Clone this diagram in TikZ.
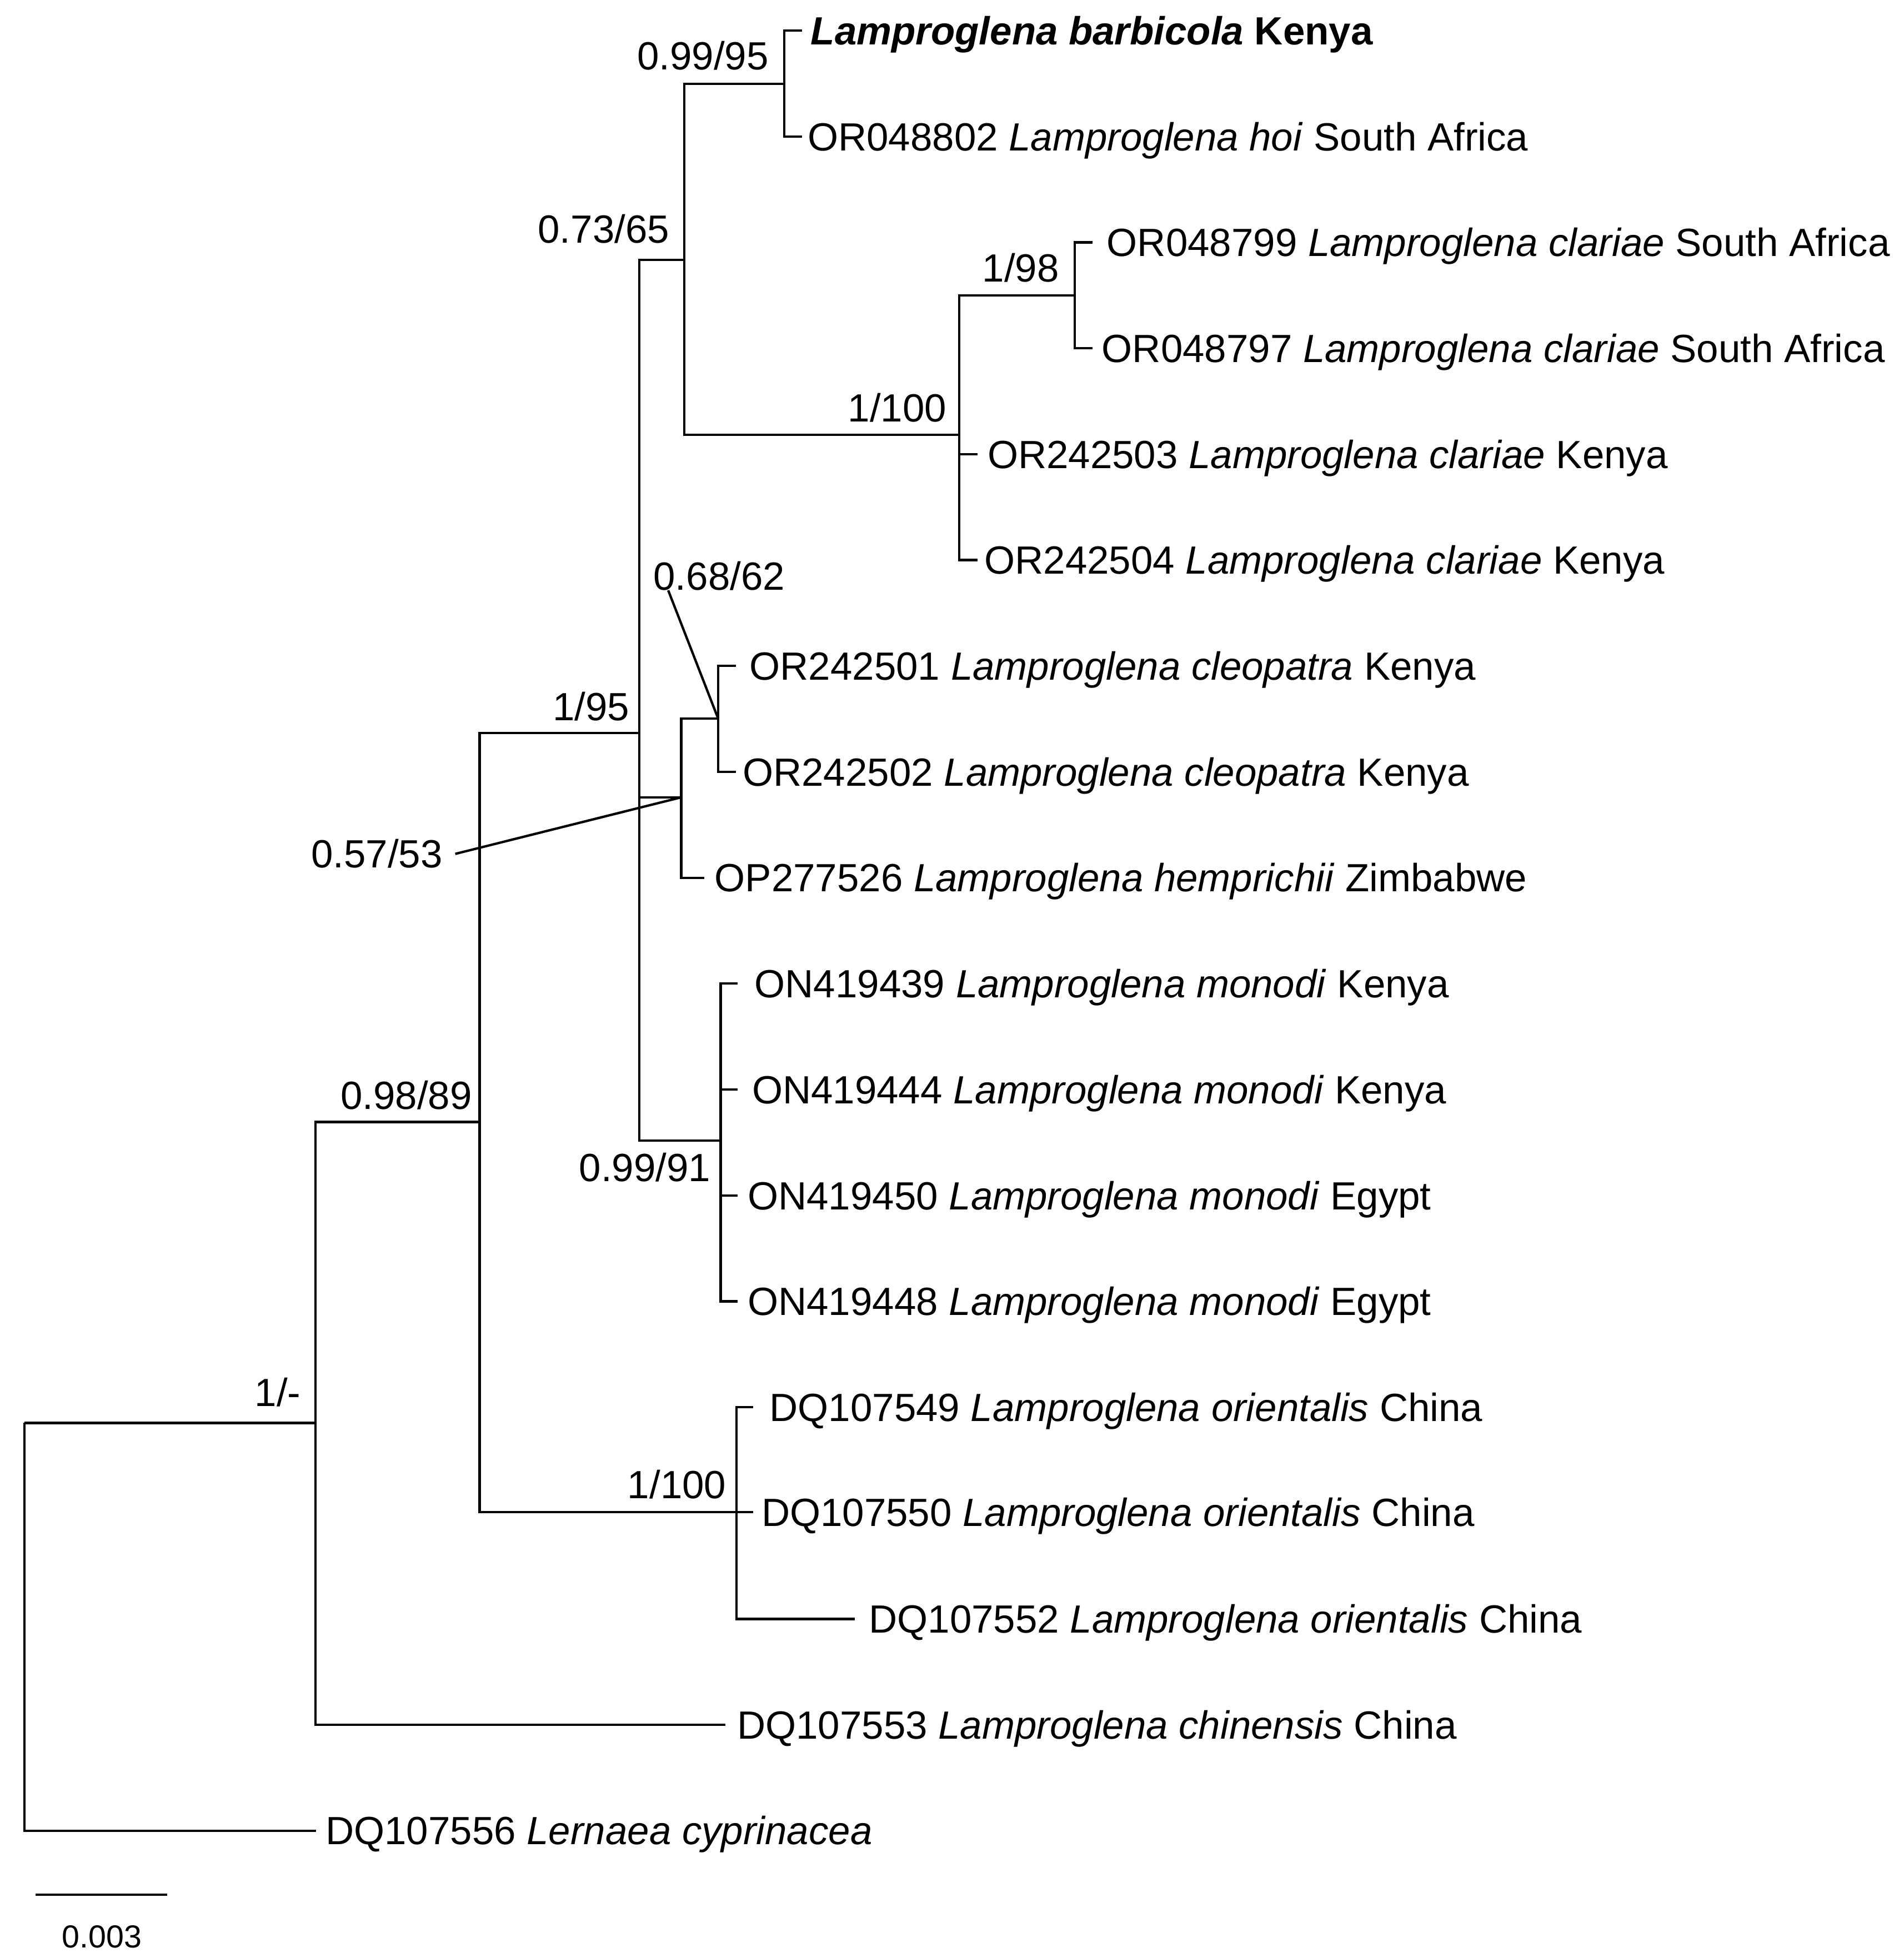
\documentclass[tikz,border=0pt]{standalone}
\usepackage{fontspec}
\setmainfont{Liberation Sans}
\begin{document}
\begin{tikzpicture}[x=1pt,y=-1pt]
\tikzset{
  branch/.style={line width=1.9pt, line join=miter, line cap=butt},
  taxon/.style={anchor=west, inner sep=0pt, font=\fontsize{31.5}{36}\selectfont, text height=22.5pt, text depth=0pt},
  support/.style={anchor=east, inner sep=0pt, font=\fontsize{31.5}{36}\selectfont, text height=22.5pt, text depth=0pt},
  scalelabel/.style={inner sep=0pt, font=\fontsize{25.5}{30}\selectfont, text height=18.3pt, text depth=0pt},
}
\useasboundingbox (0,0) rectangle (1524,1568);

% internal nodes
\coordinate (root) at (19.5,1139.5);
\coordinate (n252) at (252.5,1139.5);
\coordinate (n385) at (384,898.5);
\coordinate (n512) at (512,587);
\coordinate (n548) at (548,208);
\coordinate (n628) at (628,67);
\coordinate (n768) at (768,348.3);
\coordinate (n860) at (860.4,236.5);
\coordinate (n545) at (545.4,638.5);
\coordinate (n575) at (575,575.5);
\coordinate (n577) at (577,913.3);
\coordinate (n590) at (589.5,1211);

% leaf tips
\coordinate (t1) at (642,24.5);
\coordinate (t2) at (642,109.3);
\coordinate (t3) at (874.6,194.1);
\coordinate (t4) at (874.6,278.9);
\coordinate (t5) at (782.5,363.7);
\coordinate (t6) at (782.5,448.5);
\coordinate (t7) at (589,533.3);
\coordinate (t8) at (589,618.1);
\coordinate (t9) at (564,702.9);
\coordinate (t10) at (590.7,787.7);
\coordinate (t11) at (590.7,872.5);
\coordinate (t12) at (590.7,957.3);
\coordinate (t13) at (590.7,1042.1);
\coordinate (t14) at (602.8,1126.9);
\coordinate (t15) at (603,1211);
\coordinate (t16) at (684.5,1296.5);
\coordinate (t17) at (580.7,1381.3);
\coordinate (t18) at (253,1466);

% taxon labels
\node[taxon] (L1) at (649,24.5) {\textbf{\textit{Lamproglena barbicola} Kenya}};
\node[taxon] (L2) at (646.5,109.3) {OR048802 \textit{Lamproglena hoi} South Africa};
\node[taxon] (L3) at (886,194.1) {OR048799 \textit{Lamproglena clariae} South Africa};
\node[taxon] (L4) at (882,278.9) {OR048797 \textit{Lamproglena clariae} South Africa};
\node[taxon] (L5) at (790.5,363.7) {OR242503 \textit{Lamproglena clariae} Kenya};
\node[taxon] (L6) at (788,448.5) {OR242504 \textit{Lamproglena clariae} Kenya};
\node[taxon] (L7) at (600,533.3) {OR242501 \textit{Lamproglena cleopatra} Kenya};
\node[taxon] (L8) at (594.5,618.1) {OR242502 \textit{Lamproglena cleopatra} Kenya};
\node[taxon] (L9) at (572,702.9) {OP277526 \textit{Lamproglena hemprichii} Zimbabwe};
\node[taxon] (L10) at (604,787.7) {ON419439 \textit{Lamproglena monodi} Kenya};
\node[taxon] (L11) at (602,872.5) {ON419444 \textit{Lamproglena monodi} Kenya};
\node[taxon] (L12) at (598.5,957.3) {ON419450 \textit{Lamproglena monodi} Egypt};
\node[taxon] (L13) at (598.5,1042.1) {ON419448 \textit{Lamproglena monodi} Egypt};
\node[taxon] (L14) at (616,1126.9) {DQ107549 \textit{Lamproglena orientalis} China};
\node[taxon] (L15) at (609.5,1211) {DQ107550 \textit{Lamproglena orientalis} China};
\node[taxon] (L16) at (695.5,1296.5) {DQ107552 \textit{Lamproglena orientalis} China};
\node[taxon] (L17) at (590,1381.3) {DQ107553 \textit{Lamproglena chinensis} China};
\node[taxon] (L18) at (260.5,1466) {DQ107556 \textit{Lernaea cyprinacea}};

% branches
\draw[branch] (n252) -| (root);
\draw[branch] (t18) -| (root);
\draw[branch] (n385) -| (n252);
\draw[branch] (t17) -| (n252);
\draw[branch] (n512) -| (n385);
\draw[branch] (n590) -| (n385);
\draw[branch] (n548) -| (n512);
\draw[branch] (n545) -| (n512);
\draw[branch] (n577) -| (n512);
\draw[branch] (n628) -| (n548);
\draw[branch] (n768) -| (n548);
\draw[branch] (t1) -| (n628);
\draw[branch] (t2) -| (n628);
\draw[branch] (n860) -| (n768);
\draw[branch] (t5) -| (n768);
\draw[branch] (t6) -| (n768);
\draw[branch] (t3) -| (n860);
\draw[branch] (t4) -| (n860);
\draw[branch] (n575) -| (n545);
\draw[branch] (t9) -| (n545);
\draw[branch] (t7) -| (n575);
\draw[branch] (t8) -| (n575);
\draw[branch] (t10) -| (n577);
\draw[branch] (t11) -| (n577);
\draw[branch] (t12) -| (n577);
\draw[branch] (t13) -| (n577);
\draw[branch] (t14) -| (n590);
\draw[branch] (t15) -| (n590);
\draw[branch] (t16) -| (n590);

% support values
\node[support] (s628) at (615.5,44.5) {0.99/95};
\node[support] (s548) at (536,183.5) {0.73/65};
\node[support] (s860) at (848,214.3) {1/98};
\node[support] (s768) at (758,326.5) {1/100};
\node[support,anchor=west] (s575) at (523,461.3) {0.68/62};
\node[support] (s512) at (504,565.6) {1/95};
\node[support] (s545) at (354.5,683.8) {0.57/53};
\node[support] (s385) at (378,877) {0.98/89};
\node[support] (s577) at (569,935) {0.99/91};
\node[support] (s252) at (241,1115) {1/-};
\node[support] (s590) at (581.5,1188.7) {1/100};

% leader lines
\draw[branch] ([xshift=12pt]s575.south west) -- (n575);
\draw[branch] ([xshift=10pt]s545.east) -- (n545);

% scale bar
\coordinate (sb1) at (28.6,1517.4);
\coordinate (sb2) at (134,1517.4);
\draw[branch] (sb1) -- (sb2);
\node[scalelabel] (sbl) at (81.5,1550.7) {0.003};
\end{tikzpicture}
\end{document}
